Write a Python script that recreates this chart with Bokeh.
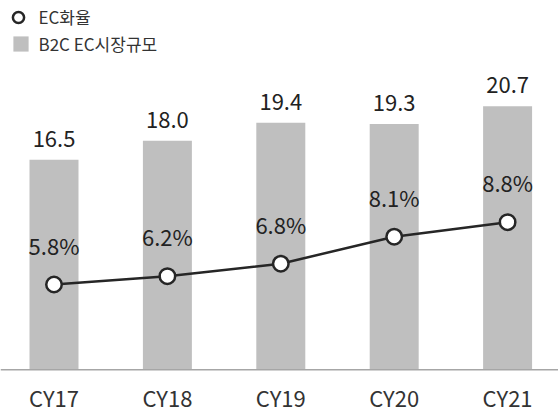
from bokeh.plotting import figure
from bokeh.models import Range1d, ColumnDataSource, Legend, LegendItem, Span
from bokeh.core.properties import value
from bokeh.embed import file_html
from bokeh.resources import INLINE

# ---- data ----
years = ["CY17", "CY18", "CY19", "CY20", "CY21"]
market = [16.5, 18.0, 19.4, 19.3, 20.7]          # B2C EC시장규모
rate = [5.8, 6.2, 6.8, 8.1, 8.8]                 # EC화율 (%)
market_labels = ["16.5", "18.0", "19.4", "19.3", "20.7"]
rate_labels = ["5.8%", "6.2%", "6.8%", "8.1%", "8.8%"]

FONT = "Noto Sans CJK KR"
BAR = "#bfbfbf"
INK = "#262626"

idx = list(range(len(years)))
src = ColumnDataSource(dict(x=idx, year=years, market=market, rate=rate,
                            mlab=market_labels, rlab=rate_labels,
                            zero=[0] * len(years)))

p = figure(width=558, height=414, output_backend="svg", toolbar_location=None,
           x_range=Range1d(-0.4718, 4.4489), y_range=Range1d(-3.511, 29.01),
           x_axis_type=None, y_axis_type=None, min_border=0,
           outline_line_color=None)
p.grid.visible = False
p.extra_y_ranges = {"rate": Range1d(-0.459, 19.474)}

bars = p.vbar(x="x", top="market", width=0.432, source=src,
              fill_color=BAR, line_color=None)

p.add_layout(Span(location=0, dimension="width", line_color="#a6a6a6",
                  line_width=1.5))

p.line(x="x", y="rate", source=src, y_range_name="rate",
       line_color=INK, line_width=2.5)
pts = p.scatter(x="x", y="rate", source=src, y_range_name="rate",
                size=15.5, fill_color="white", line_color=INK, line_width=2.5)

p.text(x="x", y="market", text="mlab", source=src,
       text_align="center", text_baseline="alphabetic", y_offset=-21,
       text_font=value(FONT), text_font_size="22px", text_color="#222222")
p.text(x="x", y="rate", text="rlab", source=src, y_range_name="rate",
       text_align="center", text_baseline="alphabetic", y_offset=-40,
       text_font=value(FONT), text_font_size="22px", text_color="#222222")
p.text(x="x", y="zero", text="year", source=src,
       text_align="center", text_baseline="alphabetic", y_offset=27.4,
       text_font=value(FONT), text_font_size="22px", text_color="#333333")


def make_legend(item, loc, box, standoff):
    return Legend(items=[item], location=loc, orientation="vertical",
                  border_line_color=None, background_fill_alpha=0,
                  padding=0, margin=0, spacing=0,
                  glyph_width=box, glyph_height=box, label_height=box,
                  label_standoff=standoff,
                  label_text_font=FONT, label_text_font_size="17px",
                  label_text_color="#333333")


p.add_layout(make_legend(LegendItem(label="EC화율", renderers=[pts]),
                         (3.5, 383.2), 28, 7))
p.add_layout(make_legend(LegendItem(label="B2C EC시장규모", renderers=[bars]),
                         (10.5, 358.3), 19, 9))

open("out.html", "w").write(file_html(p, INLINE))
